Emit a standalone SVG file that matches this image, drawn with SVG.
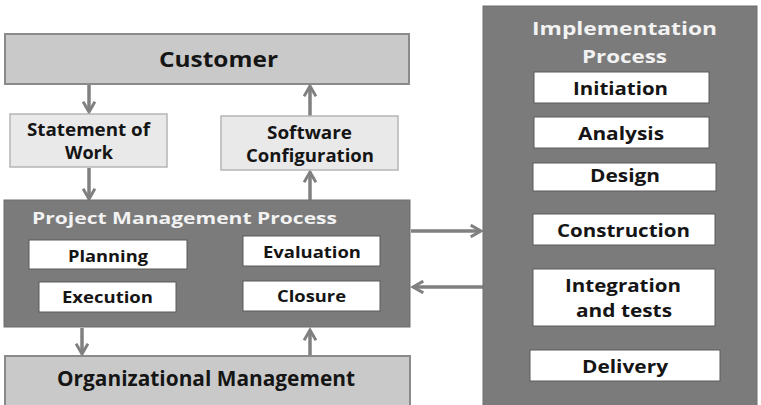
<svg xmlns="http://www.w3.org/2000/svg" width="761" height="405" viewBox="0 0 761 405">
  <style>
    .bg { fill: #ffffff; }
    .outer { fill: #c9c9c9; stroke: #8a8a8a; stroke-width: 2; }
    .doc { fill: #e9e9e9; stroke: #b5b5b5; stroke-width: 1.5; }
    .proc { fill: #7b7b7b; stroke: #6f6f6f; stroke-width: 1; }
    .step { fill: #ffffff; stroke: #5a5a5a; stroke-width: 1; }
    .conn { stroke: #808080; stroke-width: 3.5; fill: none; marker-end: url(#chev); }
    text { font-family: "Open Sans", "Liberation Sans", sans-serif; font-weight: 700; fill: #151515; }
    .head { fill: #f2f2f2; }
  </style>
  <defs>
    <marker id="chev" viewBox="0 0 10 10" refX="8" refY="5" markerWidth="4.2" markerHeight="4.2" orient="auto" markerUnits="strokeWidth">
      <path d="M1,1 L8,5 L1,9" fill="none" stroke="#808080" stroke-width="2"/>
    </marker>
  </defs>
  <rect class="bg" x="0" y="0" width="761" height="405"/>

  <g id="connectors">
    <line class="conn" x1="89" y1="85" x2="89" y2="112"/>
    <line class="conn" x1="89" y1="168" x2="89" y2="199"/>
    <line class="conn" x1="310" y1="116" x2="310" y2="86"/>
    <line class="conn" x1="310" y1="200" x2="310" y2="172"/>
    <line class="conn" x1="82" y1="328" x2="82" y2="354"/>
    <line class="conn" x1="310" y1="356" x2="310" y2="330"/>
    <line class="conn" x1="411" y1="231" x2="481" y2="231"/>
    <line class="conn" x1="483" y1="287" x2="413" y2="287"/>
  </g>

  <g id="customer">
    <rect class="outer" x="5" y="34" width="404" height="50"/>
    <text x="159" y="67" font-size="21" textLength="119" lengthAdjust="spacingAndGlyphs">Customer</text>
  </g>

  <g id="statement-of-work">
    <rect class="doc" x="10" y="114" width="157" height="53"/>
    <text x="27" y="136" font-size="17" textLength="123" lengthAdjust="spacingAndGlyphs">Statement of</text>
    <text x="65" y="159" font-size="17" textLength="48" lengthAdjust="spacingAndGlyphs">Work</text>
  </g>

  <g id="software-configuration">
    <rect class="doc" x="221" y="116" width="177" height="54"/>
    <text x="267" y="139" font-size="17" textLength="85" lengthAdjust="spacingAndGlyphs">Software</text>
    <text x="246" y="162" font-size="17" textLength="128" lengthAdjust="spacingAndGlyphs">Configuration</text>
  </g>

  <g id="project-management-process">
    <rect class="proc" x="4" y="200" width="406" height="127"/>
    <text class="head" x="32" y="224" font-size="16.5" textLength="305" lengthAdjust="spacingAndGlyphs">Project Management Process</text>
  </g>
  <g id="planning">
    <rect class="step" x="29" y="240" width="158" height="29"/>
    <text x="68" y="262" font-size="16" textLength="80" lengthAdjust="spacingAndGlyphs">Planning</text>
  </g>
  <g id="evaluation">
    <rect class="step" x="243" y="236" width="137" height="30"/>
    <text x="263" y="258" font-size="16" textLength="98" lengthAdjust="spacingAndGlyphs">Evaluation</text>
  </g>
  <g id="execution">
    <rect class="step" x="39" y="282" width="137" height="30"/>
    <text x="62" y="303" font-size="16" textLength="91" lengthAdjust="spacingAndGlyphs">Execution</text>
  </g>
  <g id="closure">
    <rect class="step" x="243" y="281" width="137" height="30"/>
    <text x="277" y="302" font-size="16" textLength="69" lengthAdjust="spacingAndGlyphs">Closure</text>
  </g>

  <g id="organizational-management">
    <rect class="outer" x="5" y="356" width="405" height="52"/>
    <text x="57" y="386" font-size="21.5" textLength="298" lengthAdjust="spacingAndGlyphs">Organizational Management</text>
  </g>

  <g id="implementation-process">
    <rect class="proc" x="483" y="6" width="274" height="402"/>
    <text class="head" x="532" y="35" font-size="17.5" textLength="185" lengthAdjust="spacingAndGlyphs">Implementation</text>
    <text class="head" x="582" y="63" font-size="17.5" textLength="85" lengthAdjust="spacingAndGlyphs">Process</text>
  </g>
  <g id="initiation">
    <rect class="step" x="534" y="72" width="175" height="31"/>
    <text x="573" y="95" font-size="17" textLength="95" lengthAdjust="spacingAndGlyphs">Initiation</text>
  </g>
  <g id="analysis">
    <rect class="step" x="534" y="117" width="175" height="31"/>
    <text x="578" y="140" font-size="17" textLength="86" lengthAdjust="spacingAndGlyphs">Analysis</text>
  </g>
  <g id="design">
    <rect class="step" x="533" y="163" width="183" height="28"/>
    <text x="590" y="182" font-size="17" textLength="70" lengthAdjust="spacingAndGlyphs">Design</text>
  </g>
  <g id="construction">
    <rect class="step" x="533" y="214" width="182" height="31"/>
    <text x="557" y="237" font-size="17" textLength="133" lengthAdjust="spacingAndGlyphs">Construction</text>
  </g>
  <g id="integration-and-tests">
    <rect class="step" x="533" y="269" width="182" height="57"/>
    <text x="565" y="292" font-size="17" textLength="116" lengthAdjust="spacingAndGlyphs">Integration</text>
    <text x="576" y="317" font-size="17" textLength="96" lengthAdjust="spacingAndGlyphs">and tests</text>
  </g>
  <g id="delivery">
    <rect class="step" x="530" y="350" width="190" height="31"/>
    <text x="582" y="373" font-size="17" textLength="86" lengthAdjust="spacingAndGlyphs">Delivery</text>
  </g>
</svg>
